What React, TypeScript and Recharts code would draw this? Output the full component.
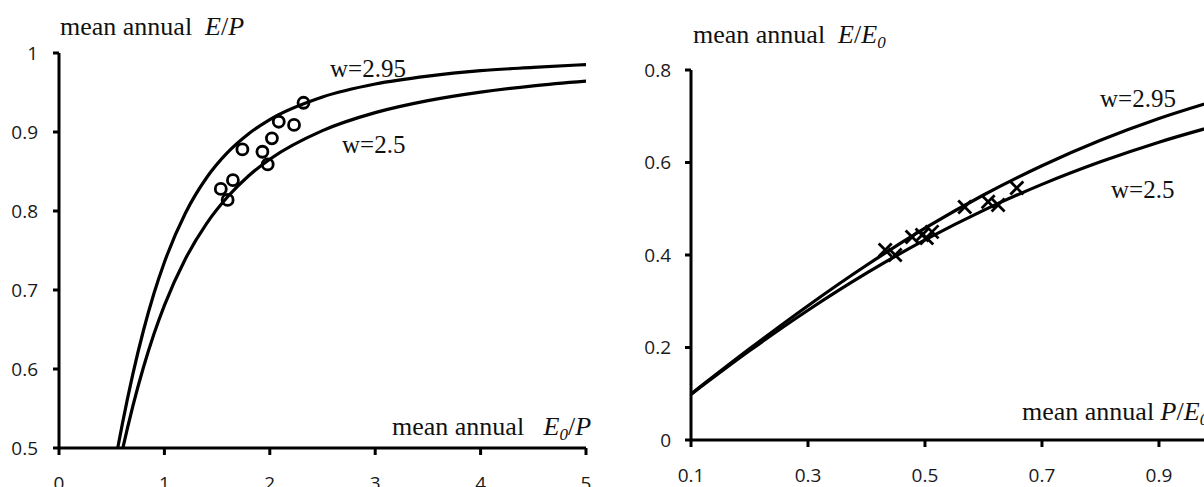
import React from 'react';
import { ComposedChart, Line, Scatter, XAxis, YAxis } from 'recharts';

// Left panel: mean annual E/P vs E0/P
const leftX295 = [0.557, 0.6, 0.7, 0.8, 0.9, 1.0, 1.2, 1.4, 1.6, 1.8, 2.0, 2.5, 3.0, 3.5, 4.0, 4.5, 5.0];
const leftY295 = [0.5, 0.5298, 0.5931, 0.6481, 0.6952, 0.7351, 0.7975, 0.8421, 0.8742, 0.8979, 0.9158, 0.9444, 0.9608, 0.9708, 0.9776, 0.9817, 0.9854];
const leftX25 = [0.606, 0.65, 0.7, 0.8, 0.9, 1.0, 1.2, 1.4, 1.6, 1.8, 2.0, 2.5, 3.0, 3.5, 4.0, 4.5, 5.0];
const leftY25 = [0.5, 0.5256, 0.5527, 0.6015, 0.6439, 0.6805, 0.7396, 0.7841, 0.818, 0.8446, 0.8655, 0.9017, 0.9245, 0.9397, 0.9505, 0.9585, 0.9644];
const obsLeftX = [2.32, 2.085, 2.23, 2.02, 1.74, 1.93, 1.98, 1.65, 1.535, 1.6];
const obsLeftY = [0.937, 0.913, 0.909, 0.892, 0.878, 0.875, 0.859, 0.839, 0.828, 0.814];
const leftXTicks = [0, 1, 2, 3, 4, 5];
const leftYTicks = [0.5, 0.6, 0.7, 0.8, 0.9, 1];

// Right panel: mean annual E/E0 vs P/E0
const rightX = [0.1, 0.2, 0.3, 0.4, 0.5, 0.6, 0.7, 0.8, 0.9, 1.0];
const rightY295 = [0.0996, 0.1971, 0.2904, 0.3778, 0.4579, 0.5298, 0.5931, 0.6481, 0.6952, 0.7351];
const rightY25 = [0.0987, 0.1929, 0.2806, 0.3607, 0.4327, 0.4966, 0.5527, 0.6015, 0.6439, 0.6805];
const obsRightX = [0.432, 0.449, 0.478, 0.495, 0.503, 0.512, 0.568, 0.608, 0.625, 0.657];
const obsRightY = [0.411, 0.4, 0.439, 0.443, 0.437, 0.45, 0.504, 0.515, 0.508, 0.545];
const rightXTicks = [0.1, 0.3, 0.5, 0.7, 0.9];
const rightYTicks = [0, 0.2, 0.4, 0.6, 0.8];

const zip = (xs: number[], ys: number[]) => xs.map((x, i) => ({ x, y: ys[i] }));

const tickStyle = { fill: '#1a1a1a', fontSize: 19, fontFamily: 'Open Sans' };
const axisLine = { stroke: '#000', strokeWidth: 3 };
const tickLine = { stroke: '#000', strokeWidth: 3 };
const serif = 'Liberation Serif';

const CircleMark = (p: any) => (
  <circle cx={p.cx} cy={p.cy} r={5.5} fill="none" stroke="#000" strokeWidth={2.8} />
);
const CrossMark = (p: any) => (
  <g stroke="#000" strokeWidth={2.8}>
    <line x1={p.cx - 6.5} y1={p.cy - 6.5} x2={p.cx + 6.5} y2={p.cy + 6.5} />
    <line x1={p.cx - 6.5} y1={p.cy + 6.5} x2={p.cx + 6.5} y2={p.cy - 6.5} />
  </g>
);

export default function App() {
  return (
    <div style={{ position: 'absolute', left: 0, top: 0, width: 1204, height: 487, background: '#fff', overflow: 'hidden' }}>
      <div style={{ position: 'absolute', left: 0, top: 0 }}>
        <ComposedChart width={600} height={487} margin={{ top: 53, right: 14, bottom: 0, left: 0 }}>
          <XAxis dataKey="x" type="number" domain={[0, 5]} ticks={leftXTicks} allowDataOverflow
            axisLine={axisLine} tickLine={tickLine} tickSize={7} tickMargin={22} tick={tickStyle} height={39} />
          <YAxis dataKey="y" type="number" domain={[0.5, 1]} ticks={leftYTicks} allowDataOverflow
            axisLine={axisLine} tickLine={tickLine} tickSize={6} tickMargin={15} tick={tickStyle} width={59} />
          <Line data={zip(leftX295, leftY295)} dataKey="y" type="monotone" stroke="#000" strokeWidth={3.2} dot={false} isAnimationActive={false} />
          <Line data={zip(leftX25, leftY25)} dataKey="y" type="monotone" stroke="#000" strokeWidth={3.2} dot={false} isAnimationActive={false} />
          <Scatter data={zip(obsLeftX, obsLeftY)} dataKey="y" shape={CircleMark} isAnimationActive={false} />
        </ComposedChart>
      </div>
      <div style={{ position: 'absolute', left: 600, top: 0 }}>
        <ComposedChart width={604} height={487} margin={{ top: 70, right: 0, bottom: 0, left: 0 }}>
          <XAxis dataKey="x" type="number" domain={[0.1, 0.977]} ticks={rightXTicks} allowDataOverflow
            axisLine={axisLine} tickLine={tickLine} tickSize={7} tickMargin={22} tick={tickStyle} height={47} />
          <YAxis dataKey="y" type="number" domain={[0, 0.8]} ticks={rightYTicks} allowDataOverflow
            axisLine={axisLine} tickLine={tickLine} tickSize={6} tickMargin={14} tick={tickStyle} width={91} />
          <Line data={zip(rightX, rightY295)} dataKey="y" type="monotone" stroke="#000" strokeWidth={3.2} dot={false} isAnimationActive={false} />
          <Line data={zip(rightX, rightY25)} dataKey="y" type="monotone" stroke="#000" strokeWidth={3.2} dot={false} isAnimationActive={false} />
          <Scatter data={zip(obsRightX, obsRightY)} dataKey="y" shape={CrossMark} isAnimationActive={false} />
        </ComposedChart>
      </div>
      <svg width={1204} height={487} style={{ position: 'absolute', left: 0, top: 0, pointerEvents: 'none' }}
        fontFamily={serif} fontSize={26} fill="#111">
        <text x={60} y={35} xmlSpace="preserve">mean annual  <tspan fontStyle="italic">E</tspan>/<tspan fontStyle="italic">P</tspan></text>
        <text x={330} y={77} fontSize={25}>w=2.95</text>
        <text x={342} y={153} fontSize={25}>w=2.5</text>
        <text x={392} y={435} xmlSpace="preserve">mean annual   <tspan fontStyle="italic">E</tspan><tspan fontStyle="italic" fontSize={17} dy={5}>0</tspan><tspan dy={-5}>/</tspan><tspan fontStyle="italic">P</tspan></text>
        <text x={693} y={43} xmlSpace="preserve">mean annual  <tspan fontStyle="italic">E</tspan>/<tspan fontStyle="italic">E</tspan><tspan fontStyle="italic" fontSize={17} dy={5}>0</tspan></text>
        <text x={1100} y={107} fontSize={25}>w=2.95</text>
        <text x={1111} y={198} fontSize={25}>w=2.5</text>
        <text x={1022} y={420} xmlSpace="preserve">mean annual <tspan fontStyle="italic">P</tspan>/<tspan fontStyle="italic">E</tspan><tspan fontStyle="italic" fontSize={17} dy={5}>0</tspan></text>
      </svg>
    </div>
  );
}
